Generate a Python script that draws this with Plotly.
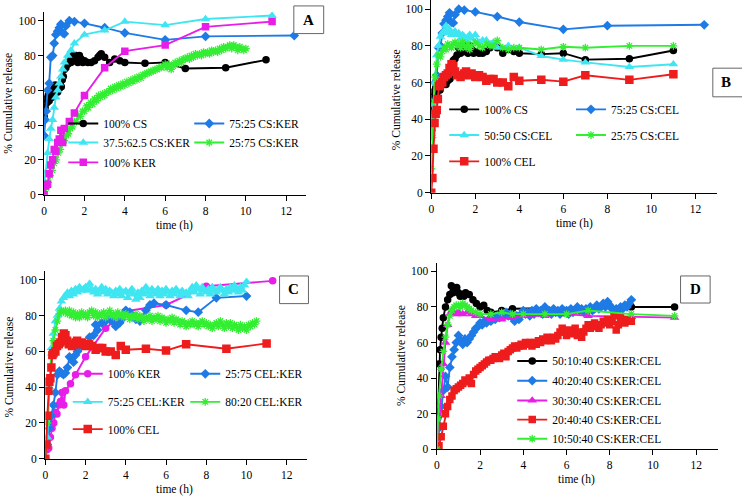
import plotly.graph_objects as go

W, H = 742, 501
FONT = "Liberation Serif, Times New Roman, Times, serif"

# ---------------- data ----------------
t_dense = [0.0, 0.1, 0.2, 0.3, 0.4, 0.5, 0.6, 0.7, 0.8, 0.9,
           1.0, 1.1, 1.2, 1.3, 1.4, 1.5, 1.6, 1.7, 1.8, 1.9,
           2.0, 2.1, 2.2, 2.3, 2.4, 2.5, 2.6, 2.7, 2.8, 2.9,
           3.0, 3.1, 3.2, 3.3, 3.4, 3.5, 3.6, 3.7, 3.8, 3.9,
           4.0, 4.1, 4.2, 4.3, 4.4, 4.5, 4.6, 4.7, 4.8, 4.9,
           5.0, 5.1, 5.2, 5.3, 5.4, 5.5, 5.6, 5.7, 5.8, 5.9,
           6.0, 6.1, 6.2, 6.3, 6.4, 6.5, 6.6, 6.7, 6.8, 6.9,
           7.0, 7.1, 7.2, 7.3, 7.4, 7.5, 7.6, 7.7, 7.8, 7.9,
           8.0, 8.1, 8.2, 8.3, 8.4, 8.5, 8.6, 8.7, 8.8, 8.9,
           9.0, 9.1, 9.2, 9.3, 9.4, 9.5, 9.6, 9.7, 9.8, 9.9,
           10.0, 10.1, 10.2, 10.3, 10.4, 10.5]

# 100% CS
cs_t = [0, 0.05, 0.1, 0.15, 0.2, 0.25, 0.3, 0.35, 0.4, 0.45,
        0.5, 0.55, 0.6, 0.67, 0.75, 0.8, 0.85, 0.9, 0.95, 1.0,
        1.08, 1.17, 1.25, 1.33, 1.42, 1.5, 1.58, 1.67, 1.75, 1.83,
        1.92, 2.0, 2.17, 2.33, 2.5, 2.67, 2.75, 2.83, 3.0, 3.25,
        3.5, 3.75, 4, 5, 6, 7, 9, 11]
cs_v = [45, 50, 55, 53, 57, 54, 58, 57, 56, 60,
        61, 63, 62, 59, 61, 63, 62, 66, 68, 72,
        73, 75, 79, 76, 80, 77, 80, 76, 80, 78,
        76, 77, 76, 76, 77, 79, 80, 81, 79, 76,
        78, 77, 76, 75.5, 76, 72.5, 73, 77.5]

# 75:25 CS:KER  (same curve for 75:25 CS:CEL)
cs75_t = [0, 0.05, 0.1, 0.17, 0.25, 0.33, 0.42, 0.5, 0.58, 0.67,
          0.75, 0.83, 0.92, 1.0, 1.08, 1.25, 1.5, 2, 3, 4, 6, 8, 12.4]
cs75_v = [34, 43, 48, 60, 64, 79, 80, 87, 92, 94,
          96, 98, 93, 92.5, 97, 100, 99.5, 98.5, 96, 93, 89, 91, 91.5]

# 37.5:62.5 CS:KER
cs375_t = [0, 0.08, 0.17, 0.25, 0.33, 0.42, 0.5, 0.58, 0.67, 0.75,
           0.83, 0.92, 1.0, 1.17, 1.33, 1.5, 2, 3, 4, 6, 8, 11.3]
cs375_v = [8, 13, 24, 32, 38, 43, 50, 56, 60, 64,
           68, 72, 76, 80, 83, 87, 92, 94.5, 99.5, 97.5, 101, 103]

# 25:75 CS:KER
cs25k_v = [0, 4, 7, 11, 14, 18, 20, 24, 26, 30,
           31, 34, 35, 38, 39, 42, 42, 45, 45, 48,
           48, 51, 50, 53, 52, 55, 54, 57, 56, 58,
           57, 59, 59, 61, 60, 62, 61, 63, 62, 64,
           63, 65, 64, 66, 65, 67, 66, 68, 67, 69,
           69, 70, 70, 71, 71, 72, 72, 73, 73, 74,
           75, 73, 75, 72, 74, 76, 75, 77, 76, 78,
           78, 79, 78, 80, 79, 81, 80, 81, 80, 82,
           81, 82, 81, 83, 82, 83, 82, 84, 83, 85,
           84, 85, 86, 84, 86, 85, 83, 85, 84, 83,
           84]

# 100% KER
ker_t = [0, 0.08, 0.17, 0.25, 0.33, 0.42, 0.5, 0.58, 0.67, 0.75,
         0.83, 0.92, 1.0, 1.25, 1.5, 2, 3, 4, 6, 8, 11.3]
ker_v = [0, 5, 6, 12, 17, 20, 26, 25, 30, 32,
         37, 30, 38, 42, 47, 57, 73, 82.5, 86, 96.5, 99.5]

# 50:50 CS:CEL
cs50c_t = [0, 0.05, 0.1, 0.17, 0.25, 0.33, 0.42, 0.5, 0.58, 0.67,
           0.75, 0.83, 0.92, 1.0, 1.08, 1.17, 1.25, 1.33, 1.42, 1.5,
           1.58, 1.67, 1.75, 1.83, 2.0, 2.17, 2.33, 2.5, 2.67, 2.83,
           3.0, 3.5, 4, 5, 6, 7, 9, 11]
cs50c_v = [32, 40, 48, 60, 75, 80, 85, 87, 88, 91,
           87, 89, 86, 87, 88, 86, 87, 84, 86, 85,
           83, 85, 86, 84, 86, 82, 83, 83, 81, 82,
           79, 80, 79, 74.5, 72.5, 71, 68.5, 70]

# 25:75 CS:CEL
cs25c_t = [0, 0.05, 0.1, 0.17, 0.25, 0.33, 0.42, 0.5, 0.58, 0.67,
           0.75, 0.83, 0.92, 1.0, 1.08, 1.17, 1.25, 1.33, 1.42, 1.5,
           1.58, 1.67, 1.75, 1.83, 2.0, 2.17, 2.33, 2.5, 2.67, 2.83,
           3.0, 3.25, 3.5, 3.75, 4, 5, 6, 7, 9, 11]
cs25c_v = [13, 30, 50, 63, 70, 75, 74, 77, 79, 78,
           81, 80, 79, 81, 82, 80, 81, 79, 82, 80,
           79, 81, 78, 80, 82, 80, 79, 81, 80, 80,
           83, 79, 78, 79, 79, 78, 79.5, 79, 80, 80]

# 100% CEL
cel_t = [0, 0.05, 0.1, 0.15, 0.2, 0.25, 0.3, 0.35, 0.4, 0.5,
         0.58, 0.67, 0.75, 0.83, 0.92, 1.0, 1.08, 1.17, 1.33, 1.5,
         1.58, 1.67, 1.83, 2.0, 2.17, 2.33, 2.5, 2.67, 2.83, 3.0,
         3.25, 3.5, 3.75, 4, 5, 6, 7, 9, 11]
cel_v = [0, 8, 24, 38, 43, 45, 51, 58, 59, 60,
         63, 64, 65, 68, 70, 69, 66, 64, 63, 65,
         66, 64, 65, 63, 64, 63, 61, 62, 62, 60,
         60, 58, 63, 61, 61.5, 60.5, 64, 61.5, 64.5]

# 25:75 CEL:KER
cel25_t = [0, 0.1, 0.2, 0.3, 0.4, 0.5, 0.6, 0.7, 0.8, 0.9,
           1.0, 1.1, 1.2, 1.3, 1.4, 1.5, 1.6, 1.8, 2.0, 2.2,
           2.4, 2.5, 2.6, 2.8, 3.0, 3.2, 3.4, 3.5, 3.7, 3.8,
           4.0, 4.2, 4.5, 4.7, 5.0, 5.2, 5.4, 6, 7, 7.6, 8.5, 10]
cel25_v = [0, 8, 17, 24, 30, 37, 47, 49, 48, 47,
           48, 51, 57, 56, 54, 58, 60, 63, 64, 68,
           69, 75, 72, 76, 77, 78, 76, 74, 76, 78,
           83, 82, 78, 77, 83, 86, 87, 86, 83, 82, 90, 91]

# 75:25 CEL:KER
cel75_v = [0, 12, 40, 62, 70, 77, 80, 84, 88, 90,
           91, 93, 91, 94, 92, 95, 93, 96, 94, 95,
           96, 94, 98, 95, 93, 95, 92, 94, 96, 93,
           95, 92, 94, 93, 91, 94, 92, 95, 91, 93,
           94, 90, 93, 95, 92, 89, 93, 90, 94, 92,
           96, 93, 91, 95, 93, 92, 95, 91, 94, 92,
           95, 93, 91, 94, 92, 95, 93, 91, 94, 92,
           93, 91, 94, 96, 93, 97, 95, 92, 96, 94,
           93, 95, 92, 96, 94, 93, 95, 96, 94, 92,
           95, 93, 96, 94, 97, 95, 93, 96, 94, 97,
           99]

# 80:20 CEL:KER
cel80_v = [0, 20, 45, 58, 66, 72, 77, 81, 83, 82,
           83, 81, 83, 80, 82, 79, 81, 79, 82, 80,
           81, 79, 82, 83, 80, 82, 79, 81, 80, 82,
           79, 81, 83, 80, 81, 79, 82, 80, 81, 79,
           81, 80, 78, 80, 79, 81, 78, 80, 79, 77,
           79, 78, 80, 77, 79, 78, 80, 77, 79, 78,
           76, 78, 77, 79, 76, 78, 77, 75, 77, 76,
           74, 76, 75, 77, 75, 76, 74, 76, 77, 75,
           76, 74, 75, 73, 75, 76, 74, 77, 75, 73,
           76, 74, 76, 73, 75, 74, 72, 75, 73, 74,
           72, 75, 74, 76, 75, 77]

# 50:10:40 CS:KER:CEL
d50_t = [0, 0.05, 0.1, 0.15, 0.2, 0.25, 0.3, 0.4, 0.5, 0.6,
         0.67, 0.75, 0.83, 0.92, 1.0, 1.08, 1.17, 1.25, 1.33, 1.5,
         1.67, 1.83, 2.0, 2.17, 2.33, 2.5, 3.0, 3.5, 9, 11]
d50_v = [0, 18, 48, 56, 63, 68, 74, 80, 84, 87,
         92, 88, 90, 91, 88, 86, 87, 86, 88, 87,
         84, 82, 80, 81, 78, 77, 78, 79, 80, 80]

# 40:20:40 CS:KER:CEL
d40_v = [0, 12, 24, 33, 41, 35, 46, 52, 56, 60,
         64, 61, 59, 62, 60, 62, 64, 66, 68, 69,
         71, 70, 72, 71, 73, 72, 74, 73, 75, 74,
         76, 75, 77, 75, 76, 74, 72, 75, 73, 76,
         78, 76, 77, 75, 78, 76, 79, 77, 78, 76,
         80, 77, 78, 76, 79, 77, 78, 76, 79, 77,
         78, 76, 79, 77, 78, 80, 78, 79, 77, 79,
         78, 80, 78, 79, 81, 79, 80, 82, 80, 83,
         81, 79, 77, 79, 78, 80, 79, 81, 80, 82,
         84]

# 30:30:40 CS:KER:CEL
d30_t = [0, 0.1, 0.2, 0.3, 0.4, 0.5, 0.6, 0.7, 0.8, 0.9,
         1.0, 1.2, 1.4, 1.6, 1.8, 2.0, 2.5, 3.0, 3.5, 4,
         5, 6, 7, 9, 11]
d30_v = [0, 12, 30, 48, 60, 70, 76, 78, 77, 76,
         77, 76, 77, 76, 75, 75, 73, 73, 74, 75,
         75, 76, 75, 74.5, 74]

# 20:40:40 CS:KER:CEL
d20_v = [0, 2, 7, 13, 20, 24, 28, 30, 33, 34,
         35, 36, 37, 39, 38, 40, 37, 42, 44, 45,
         46, 47, 48, 49, 50, 50, 51, 52, 52, 51,
         53, 54, 52, 55, 56, 57, 58, 57, 58, 59,
         58, 60, 59, 60, 58, 60, 59, 61, 60, 62,
         61, 63, 62, 61, 63, 62, 64, 66, 68, 66,
         64, 67, 65, 66, 68, 64, 66, 63, 66, 68,
         70, 68, 69, 71, 69, 68, 70, 72, 71, 73,
         70, 72, 75, 67, 70, 74, 72, 71, 73, 72,
         72]

# 10:50:40 CS:KER:CEL
d10_t = [0, 0.05, 0.1, 0.2, 0.3, 0.4, 0.5, 0.6, 0.7, 0.8,
         0.9, 1.0, 1.1, 1.2, 1.3, 1.4, 1.5, 1.6, 1.8, 2.0,
         2.5, 3.0, 3.5, 4, 5, 6, 7, 9, 11]
d10_v = [0, 17, 30, 45, 55, 63, 70, 75, 78, 80,
         81, 81, 80, 82, 81, 80, 79, 78, 77, 76,
         76, 77, 76, 76, 76, 76, 78, 76, 75]

x_ticks = [0, 2, 4, 6, 8, 10, 12]
y_ticks = [0, 20, 40, 60, 80, 100]

# ---------------- styles ----------------
BLACK = "#000000"
BLUE = "#1E7BE6"
CYAN = "#3FE6F2"
GREEN = "#33EE33"
MAGENTA = "#E81EE8"
RED = "#EE1C1C"

STY = {
    "circle": dict(symbol="circle", size=7.5),
    "diamond": dict(symbol="diamond", size=7.5),
    "triangle": dict(symbol="triangle-up", size=8.5),
    "square": dict(symbol="square", size=7.5),
    "bigsquare": dict(symbol="square", size=8.5),
    "star": dict(symbol="asterisk-open", size=6.5),
}

fig = go.Figure()

# panel geometry in pixels: (x_left, x_right, y_bottom, y_top)
panels = {
    1: (41.3, 304.6, 197.0, 12.2),
    2: (430.0, 717.3, 195.0, 0.0),
    3: (42.5, 305.1, 464.3, 274.3),
    4: (435.6, 717.7, 454.7, 265.7),
}

legend_count = [0]
legend_layouts = {}


def add(panel, name, xs, ys, color, mk, text_px, row_px):
    legend_count[0] += 1
    n = legend_count[0]
    lname = "legend" if n == 1 else f"legend{n}"
    m = dict(STY[mk])
    if mk == "star":
        m.update(color=color, line=dict(color=color, width=1.3))
    else:
        m.update(color=color, line=dict(width=0))
    sfx = "" if panel == 1 else str(panel)
    fig.add_trace(go.Scatter(
        x=xs, y=ys, name=name, mode="lines+markers",
        line=dict(color=color, width=1.9), marker=m,
        xaxis="x" + sfx, yaxis="y" + sfx, legend=lname, showlegend=True,
    ))
    legend_layouts[lname] = dict(
        x=(text_px - 43) / W, y=1 - row_px / H, xanchor="left", yanchor="middle",
        bgcolor="rgba(0,0,0,0)", borderwidth=0,
        font=dict(family=FONT, size=11.5, color="black"),
    )


# Panel A
add(1, "100% CS", cs_t, cs_v, BLACK, "circle", 103.5, 125)
add(1, "75:25 CS:KER", cs75_t, cs75_v, BLUE, "diamond", 230, 125)
add(1, "37.5:62.5 CS:KER", cs375_t, cs375_v, CYAN, "triangle", 103.5, 144.3)
add(1, "25:75 CS:KER", t_dense[:len(cs25k_v)], cs25k_v, GREEN, "star", 230, 144.3)
add(1, "100% KER", ker_t, ker_v, MAGENTA, "square", 103.5, 164.3)

# Panel B
add(2, "100% CS", cs_t, cs_v, BLACK, "circle", 486, 110.7)
add(2, "75:25 CS:CEL", cs75_t, cs75_v, BLUE, "diamond", 613.3, 110.7)
add(2, "50:50 CS:CEL", cs50c_t, cs50c_v, CYAN, "triangle", 486, 136.7)
add(2, "25:75 CS:CEL", cs25c_t, cs25c_v, GREEN, "star", 613.3, 136.7)
add(2, "100% CEL", cel_t, cel_v, RED, "bigsquare", 486, 163.3)

# Panel C
add(3, "100% KER", ker_t, ker_v, MAGENTA, "circle", 108, 378.3)
add(3, "25:75 CEL:KER", cel25_t, cel25_v, BLUE, "diamond", 226, 378.3)
add(3, "75:25 CEL:KER", t_dense[:len(cel75_v)], cel75_v, CYAN, "triangle", 108, 406.7)
add(3, "80:20 CEL:KER", t_dense[:len(cel80_v)], cel80_v, GREEN, "star", 226, 406.7)
add(3, "100% CEL", cel_t, cel_v, RED, "bigsquare", 108, 434.3)

# Panel D
add(4, "50:10:40 CS:KER:CEL", d50_t, d50_v, BLACK, "circle", 554.3, 365.3)
add(4, "40:20:40 CS:KER:CEL", t_dense[:len(d40_v)], d40_v, BLUE, "diamond", 554.3, 385.3)
add(4, "30:30:40 CS:KER:CEL", d30_t, d30_v, MAGENTA, "triangle", 554.3, 405.3)
add(4, "20:40:40 CS:KER:CEL", t_dense[:len(d20_v)], d20_v, RED, "square", 554.3, 424.7)
add(4, "10:50:40 CS:KER:CEL", d10_t, d10_v, GREEN, "star", 554.3, 444)

axis_font = dict(family=FONT, size=11.5, color="black")
layout = dict(
    width=W, height=H, autosize=False,
    margin=dict(l=0, r=0, t=0, b=0),
    paper_bgcolor="white", plot_bgcolor="white",
    font=dict(family=FONT, size=11.5, color="black"),
    showlegend=True,
)
for p, (xl, xr, yb, yt) in panels.items():
    sfx = "" if p == 1 else str(p)
    layout["xaxis" + sfx] = dict(
        domain=[xl / W, xr / W], range=[0, 13], anchor="y" + sfx,
        tickvals=x_ticks, ticks="outside", ticklen=5, tickwidth=1.2, tickcolor="black",
        showline=True, linecolor="black", linewidth=1.4, showgrid=False, zeroline=False,
        tickfont=axis_font,
    )
    layout["yaxis" + sfx] = dict(
        domain=[1 - yb / H, 1 - yt / H], range=[0, 105], anchor="x" + sfx,
        tickvals=y_ticks, ticks="outside", ticklen=5, tickwidth=1.2, tickcolor="black",
        showline=True, linecolor="black", linewidth=1.4, showgrid=False, zeroline=False,
        tickfont=axis_font,
    )
layout.update(legend_layouts)
fig.update_layout(**layout)

# axis titles
ytitles = [(5, 104), (394, 101), (6, 371), (399, 360)]
xtitles = [(172, 228), (574, 226), (172.5, 495), (576, 485)]
for (xp, yp) in ytitles:
    fig.add_annotation(x=xp / W, y=1 - yp / H, xref="paper", yref="paper",
                       text="% Cumulative release", textangle=-90, showarrow=False,
                       font=dict(family=FONT, size=11.5, color="black"),
                       xanchor="center", yanchor="middle")
for (xp, yp) in xtitles:
    fig.add_annotation(x=xp / W, y=1 - yp / H, xref="paper", yref="paper",
                       text="time (h)", showarrow=False,
                       font=dict(family=FONT, size=11.5, color="black"),
                       xanchor="center", yanchor="middle")

# panel letter boxes
boxes = [("A", 292, 322, 6, 34, 307, 20),
         ("B", 712.7, 746, 69, 98, 726, 83.5),
         ("C", 277.7, 306.7, 279.3, 307.3, 292, 293),
         ("D", 680.3, 710, 279.3, 306.7, 695, 293)]
for (lab, x0, x1, y0, y1, cx, cy) in boxes:
    fig.add_shape(type="rect", xref="paper", yref="paper",
                  x0=x0 / W, x1=x1 / W, y0=1 - y1 / H, y1=1 - y0 / H,
                  line=dict(color="#666666", width=1), fillcolor="white", layer="above")
    fig.add_annotation(x=cx / W, y=1 - cy / H, xref="paper", yref="paper",
                       text=f"<b>{lab}</b>", showarrow=False,
                       font=dict(family=FONT, size=15, color="black"),
                       xanchor="center", yanchor="middle")

fig.write_html("out.html", config={"displayModeBar": False},
               post_script="document.body.style.margin='0';document.body.style.overflow='hidden';")
